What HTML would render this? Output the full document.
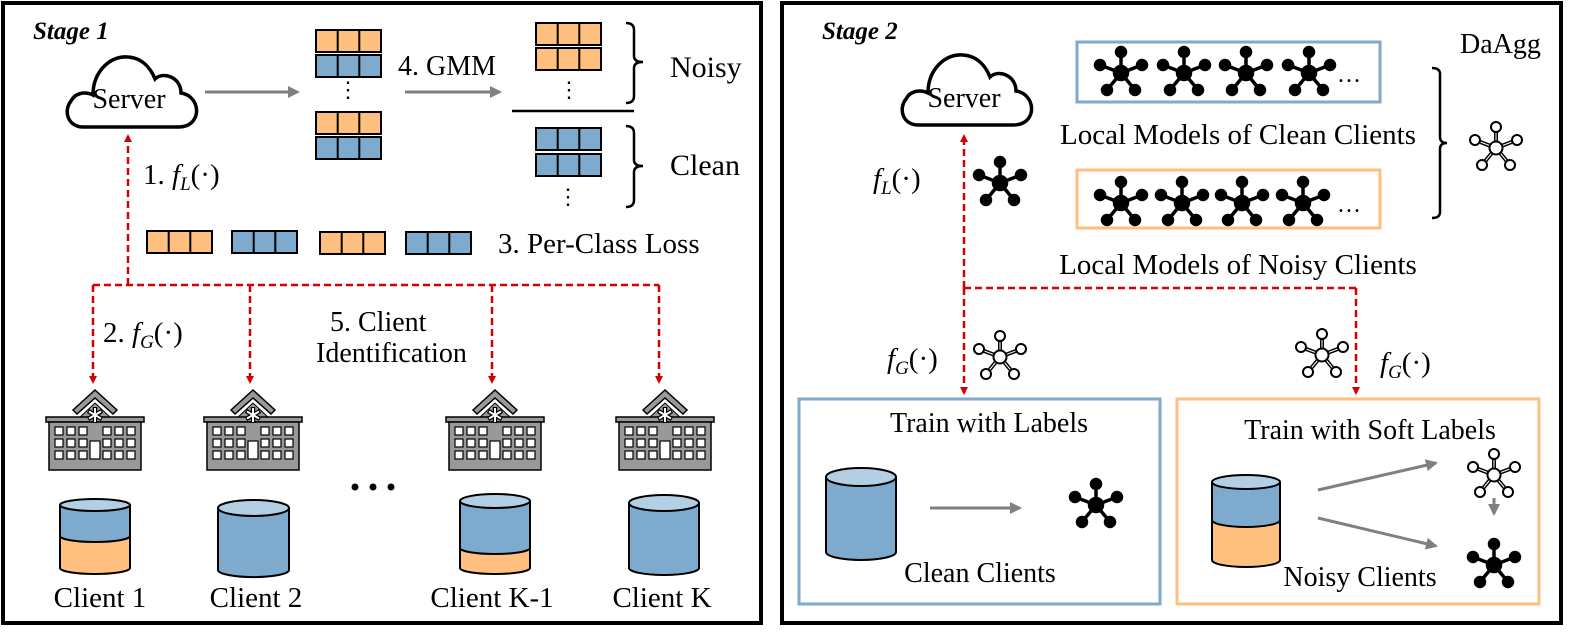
<!DOCTYPE html>
<html><head><meta charset="utf-8"><style>
html,body{margin:0;padding:0;background:#fff;}
svg{display:block;}
text{font-family:"Liberation Serif",serif;fill:#000;}
</style></head><body>
<svg width="1572" height="633" viewBox="0 0 1572 633" xmlns="http://www.w3.org/2000/svg">
<defs>
<marker id="ra" markerWidth="8" markerHeight="8" refX="6" refY="4" orient="auto" markerUnits="userSpaceOnUse"><path d="M0,0 L8,4 L0,8 Z" fill="#d40000"/></marker>
<marker id="ga" markerWidth="12" markerHeight="12" refX="10" refY="6" orient="auto" markerUnits="userSpaceOnUse"><path d="M0,0 L12,6 L0,12 Z" fill="#808080"/></marker>
<g id="cloud"><path d="M20,78 C5,78 0,62 8,52 C12,44 22,42 30,46 C30,22 48,6 65,8 C80,9 88,20 92,30 C100,22 118,28 118,44 C132,46 138,62 130,72 C126,77 120,78 115,78 Z" fill="#fff" stroke="#000" stroke-width="3.5"/></g>
<g id="ob"><rect x="0" y="0" width="65" height="22" fill="#ffbf7f" stroke="#000" stroke-width="2"/><line x1="21.7" y1="0" x2="21.7" y2="22" stroke="#000" stroke-width="2"/><line x1="43.3" y1="0" x2="43.3" y2="22" stroke="#000" stroke-width="2"/></g>
<g id="bb"><rect x="0" y="0" width="65" height="22" fill="#7eaacd" stroke="#000" stroke-width="2"/><line x1="21.7" y1="0" x2="21.7" y2="22" stroke="#000" stroke-width="2"/><line x1="43.3" y1="0" x2="43.3" y2="22" stroke="#000" stroke-width="2"/></g>
<g id="net" stroke="#000" stroke-width="3.5" fill="#000"><line x1="0" y1="0" x2="0" y2="-21"/><line x1="0" y1="0" x2="-21" y2="-8"/><line x1="0" y1="0" x2="21" y2="-8"/><line x1="0" y1="0" x2="-14" y2="17"/><line x1="0" y1="0" x2="14" y2="17"/><circle r="6.5"/><circle cx="0" cy="-21" r="4.5"/><circle cx="-21" cy="-8" r="4.5"/><circle cx="21" cy="-8" r="4.5"/><circle cx="-14" cy="17" r="4.5"/><circle cx="14" cy="17" r="4.5"/></g>
<g id="onet" stroke="#000" stroke-width="2" fill="#fff"><line x1="0" y1="0" x2="0" y2="-21" stroke-width="4"/><line x1="0" y1="0" x2="-21" y2="-8" stroke-width="4"/><line x1="0" y1="0" x2="21" y2="-8" stroke-width="4"/><line x1="0" y1="0" x2="-14" y2="17" stroke-width="4"/><line x1="0" y1="0" x2="14" y2="17" stroke-width="4"/><line x1="0" y1="0" x2="0" y2="-21" stroke="#fff" stroke-width="1"/><line x1="0" y1="0" x2="-21" y2="-8" stroke="#fff" stroke-width="1"/><line x1="0" y1="0" x2="21" y2="-8" stroke="#fff" stroke-width="1"/><line x1="0" y1="0" x2="-14" y2="17" stroke="#fff" stroke-width="1"/><line x1="0" y1="0" x2="14" y2="17" stroke="#fff" stroke-width="1"/><circle r="6.5"/><circle cx="0" cy="-21" r="5"/><circle cx="-21" cy="-8" r="5"/><circle cx="21" cy="-8" r="5"/><circle cx="-14" cy="17" r="5"/><circle cx="14" cy="17" r="5"/></g>
<g id="hosp">
<path d="M-22,24 L0,4 L22,24 L18,28 L0,12 L-18,28 Z" fill="#999" stroke="#000" stroke-width="1.5"/>
<path d="M-17,33 L0,17 L17,33 Z" fill="#999" stroke="#000" stroke-width="1"/>
<rect x="-49" y="31" width="98" height="5" fill="#999" stroke="#000" stroke-width="1.5"/>
<rect x="-46" y="36" width="92" height="48" fill="#999" stroke="#000" stroke-width="1.5"/>
<g stroke="#000" stroke-width="4.5"><line x1="0" y1="21" x2="0" y2="37"/><line x1="-7" y1="25" x2="7" y2="33"/><line x1="-7" y1="33" x2="7" y2="25"/></g>
<g stroke="#fff" stroke-width="2"><line x1="0" y1="22" x2="0" y2="36"/><line x1="-6" y1="25.5" x2="6" y2="32.5"/><line x1="-6" y1="32.5" x2="6" y2="25.5"/></g>
<g fill="#fff" stroke="#000" stroke-width="1.2">
<rect x="-40" y="41" width="8" height="8"/><rect x="-28" y="41" width="8" height="8"/><rect x="-16" y="41" width="8" height="8"/>
<rect x="-40" y="53" width="8" height="8"/><rect x="-28" y="53" width="8" height="8"/><rect x="-16" y="53" width="8" height="8"/>
<rect x="-40" y="65" width="8" height="8"/><rect x="-28" y="65" width="8" height="8"/><rect x="-16" y="65" width="8" height="8"/>
<rect x="8" y="41" width="8" height="8"/><rect x="20" y="41" width="8" height="8"/><rect x="32" y="41" width="8" height="8"/>
<rect x="8" y="53" width="8" height="8"/><rect x="20" y="53" width="8" height="8"/><rect x="32" y="53" width="8" height="8"/>
<rect x="8" y="65" width="8" height="8"/><rect x="20" y="65" width="8" height="8"/><rect x="32" y="65" width="8" height="8"/>
<rect x="-5" y="55" width="10" height="18"/></g>
</g>
</defs>

<rect x="3" y="3" width="758" height="620" fill="none" stroke="#000" stroke-width="4"/>
<rect x="782" y="3" width="779" height="620" fill="none" stroke="#000" stroke-width="4"/>

<text x="33" y="39" font-size="25" font-weight="bold" font-style="italic">Stage 1</text>
<use href="#cloud" x="63" y="49"/>
<text x="129" y="108" font-size="28" text-anchor="middle">Server</text>
<line x1="205" y1="92" x2="298" y2="92" stroke="#808080" stroke-width="3" marker-end="url(#ga)"/>
<use href="#ob" x="316" y="30"/><use href="#bb" x="316" y="55"/>
<text x="348" y="97" font-size="22" text-anchor="middle">⋮</text>
<use href="#ob" x="316" y="112"/><use href="#bb" x="316" y="137"/>
<text x="398" y="75" font-size="28">4. GMM</text>
<line x1="405" y1="92" x2="500" y2="92" stroke="#808080" stroke-width="3" marker-end="url(#ga)"/>
<use href="#ob" x="536" y="23"/><use href="#ob" x="536" y="48"/>
<text x="569" y="97" font-size="22" text-anchor="middle">⋮</text>
<line x1="512" y1="111" x2="634" y2="111" stroke="#000" stroke-width="2.5"/>
<use href="#bb" x="536" y="128"/><use href="#bb" x="536" y="154"/>
<text x="568" y="204" font-size="22" text-anchor="middle">⋮</text>
<path d="M626,23 Q634,23 634,30 L634,56 Q634,62 643,62 Q634,62 634,68 L634,96 Q634,103 626,103" fill="none" stroke="#000" stroke-width="2.5"/>
<path d="M626,126 Q634,126 634,133 L634,160 Q634,166 643,166 Q634,166 634,172 L634,200 Q634,207 626,207" fill="none" stroke="#000" stroke-width="2.5"/>
<text x="670" y="77" font-size="30">Noisy</text>
<text x="670" y="175" font-size="30">Clean</text>
<text x="143" y="184" font-size="29">1. <tspan font-style="italic">f</tspan><tspan font-style="italic" font-size="19" dy="6">L</tspan><tspan dy="-6">(·)</tspan></text>
<use href="#ob" x="147" y="231"/><use href="#bb" x="232" y="231"/><use href="#ob" x="320" y="232"/><use href="#bb" x="406" y="232"/>
<text x="498" y="253" font-size="29">3. Per-Class Loss</text>

<g stroke="#d40000" stroke-width="2.5" stroke-dasharray="7,4" fill="none">
<line x1="128" y1="285" x2="128" y2="136" marker-end="url(#ra)"/>
<line x1="93" y1="285" x2="659" y2="285"/>
<line x1="93" y1="285" x2="93" y2="382" marker-end="url(#ra)"/>
<line x1="250" y1="285" x2="250" y2="382" marker-end="url(#ra)"/>
<line x1="492" y1="285" x2="492" y2="382" marker-end="url(#ra)"/>
<line x1="659" y1="285" x2="659" y2="382" marker-end="url(#ra)"/>
</g>
<text x="103" y="342" font-size="29">2. <tspan font-style="italic">f</tspan><tspan font-style="italic" font-size="19" dy="6">G</tspan><tspan dy="-6">(·)</tspan></text>
<text x="330" y="331" font-size="28">5. Client</text>
<text x="316" y="362" font-size="28">Identification</text>

<use href="#hosp" x="95" y="386"/>
<use href="#hosp" x="253" y="386"/>
<use href="#hosp" x="495" y="386"/>
<use href="#hosp" x="665" y="386"/>
<g fill="#000"><circle cx="355" cy="487" r="3.5"/><circle cx="373" cy="487" r="3.5"/><circle cx="391" cy="487" r="3.5"/></g>

<g stroke="#000" stroke-width="2">
<path d="M60,505 L60,568 A35,6 0 0 0 130,568 L130,505" fill="#ffbf7f"/>
<path d="M60,505 L60,536 A35,6 0 0 0 130,536 L130,505" fill="#7eaacd"/>
<ellipse cx="95" cy="505" rx="35" ry="6" fill="#b3cfe3"/>
<path d="M218,508 L218,570 A35,7 0 0 0 289,570 L289,508" fill="#7eaacd"/>
<ellipse cx="253.5" cy="508" rx="35.5" ry="8" fill="#b3cfe3"/>
<path d="M460,501 L460,568 A35,6 0 0 0 530,568 L530,501" fill="#ffbf7f"/>
<path d="M460,501 L460,548 A35,6 0 0 0 530,548 L530,501" fill="#7eaacd"/>
<ellipse cx="495" cy="501" rx="35" ry="7" fill="#b3cfe3"/>
<path d="M629,503 L629,568 A35,7 0 0 0 699,568 L699,503" fill="#7eaacd"/>
<ellipse cx="664" cy="503" rx="35" ry="8" fill="#b3cfe3"/>
</g>
<text x="100" y="607" font-size="29" text-anchor="middle">Client 1</text>
<text x="256" y="607" font-size="29" text-anchor="middle">Client 2</text>
<text x="492" y="607" font-size="29" text-anchor="middle">Client K-1</text>
<text x="662" y="607" font-size="29" text-anchor="middle">Client K</text>

<text x="822" y="39" font-size="25" font-weight="bold" font-style="italic">Stage 2</text>
<use href="#cloud" x="898" y="47"/>
<text x="964" y="107" font-size="28" text-anchor="middle">Server</text>
<text x="1460" y="53" font-size="28">DaAgg</text>
<rect x="1077" y="42" width="303" height="60" fill="none" stroke="#7eaacd" stroke-width="3"/>
<rect x="1077" y="170" width="303" height="58" fill="none" stroke="#ffbf7f" stroke-width="3"/>
<use href="#net" x="1121" y="73"/><use href="#net" x="1184" y="73"/><use href="#net" x="1246" y="73"/><use href="#net" x="1309" y="73"/>
<text x="1337" y="82" font-size="24">…</text>
<use href="#net" x="1121" y="203"/><use href="#net" x="1182" y="203"/><use href="#net" x="1242" y="203"/><use href="#net" x="1303" y="203"/>
<text x="1337" y="212" font-size="24">…</text>
<text x="1238" y="144" font-size="29" text-anchor="middle">Local  Models of Clean Clients</text>
<text x="1238" y="274" font-size="29" text-anchor="middle">Local  Models of Noisy Clients</text>
<path d="M1432,68 Q1440,68 1440,74 L1440,137 Q1440,143 1447,143 Q1440,143 1440,149 L1440,212 Q1440,218 1432,218" fill="none" stroke="#000" stroke-width="2.5"/>
<use href="#onet" x="1496" y="148"/>

<g stroke="#d40000" stroke-width="2.5" stroke-dasharray="7,4" fill="none">
<line x1="964" y1="288" x2="964" y2="136" marker-end="url(#ra)"/>
<line x1="964" y1="288" x2="964" y2="393" marker-end="url(#ra)"/>
<line x1="964" y1="288" x2="1356" y2="288"/>
<line x1="1356" y1="288" x2="1356" y2="393" marker-end="url(#ra)"/>
</g>
<text x="873" y="188" font-size="29"><tspan font-style="italic">f</tspan><tspan font-style="italic" font-size="19" dy="6">L</tspan><tspan dy="-6">(·)</tspan></text>
<use href="#net" x="1000" y="183"/>
<text x="887" y="368" font-size="29"><tspan font-style="italic">f</tspan><tspan font-style="italic" font-size="19" dy="6">G</tspan><tspan dy="-6">(·)</tspan></text>
<use href="#onet" x="1000" y="357"/>
<use href="#onet" x="1322" y="355"/>
<text x="1380" y="372" font-size="29"><tspan font-style="italic">f</tspan><tspan font-style="italic" font-size="19" dy="6">G</tspan><tspan dy="-6">(·)</tspan></text>

<rect x="799" y="399" width="361" height="205" fill="none" stroke="#7eaacd" stroke-width="3"/>
<rect x="1177" y="399" width="362" height="205" fill="none" stroke="#ffbf7f" stroke-width="3"/>
<text x="989" y="432" font-size="28" text-anchor="middle">Train with Labels</text>
<g stroke="#000" stroke-width="2">
<path d="M826,477 L826,552 A35,8 0 0 0 896,552 L896,477" fill="#7eaacd"/>
<ellipse cx="861" cy="477" rx="35" ry="9" fill="#b3cfe3"/>
</g>
<line x1="930" y1="508" x2="1020" y2="508" stroke="#808080" stroke-width="3" marker-end="url(#ga)"/>
<use href="#net" x="1096" y="505"/>
<text x="980" y="582" font-size="28" text-anchor="middle">Clean Clients</text>

<text x="1370" y="439" font-size="28" text-anchor="middle">Train with Soft Labels</text>
<g stroke="#000" stroke-width="2">
<path d="M1212,482 L1212,560 A34,7 0 0 0 1280,560 L1280,482" fill="#ffbf7f"/>
<path d="M1212,482 L1212,520 A34,7 0 0 0 1280,520 L1280,482" fill="#7eaacd"/>
<ellipse cx="1246" cy="482" rx="34" ry="7" fill="#b3cfe3"/>
</g>
<line x1="1318" y1="490" x2="1436" y2="463" stroke="#808080" stroke-width="3" marker-end="url(#ga)"/>
<line x1="1318" y1="518" x2="1436" y2="546" stroke="#808080" stroke-width="3" marker-end="url(#ga)"/>
<use href="#onet" x="1494" y="475"/>
<line x1="1494" y1="498" x2="1494" y2="514" stroke="#808080" stroke-width="3" marker-end="url(#ga)"/>
<use href="#net" x="1494" y="565"/>
<text x="1360" y="586" font-size="28" text-anchor="middle">Noisy Clients</text>
</svg>
</body></html>
